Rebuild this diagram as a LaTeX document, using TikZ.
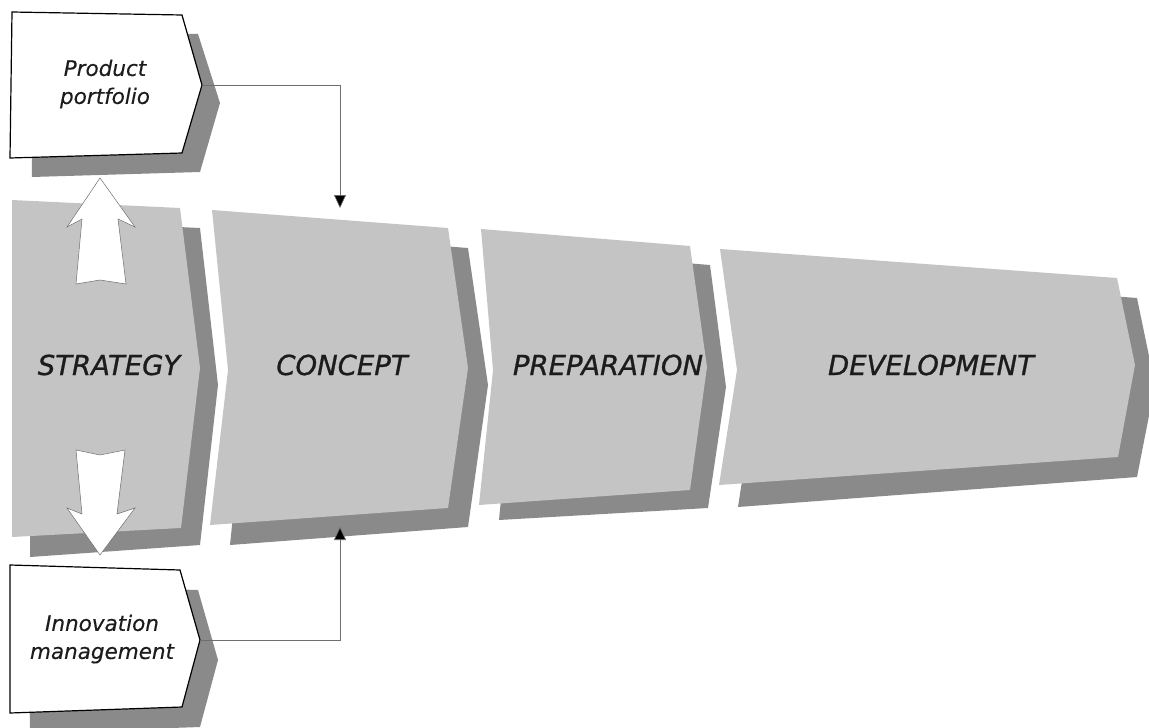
\documentclass[tikz,border=0pt]{standalone}
\usepackage{fontspec}
\setmainfont{DejaVu Sans}
\newfontfamily\stagefont{DejaVu Sans}[ItalicFeatures={FakeBold=0.9}]
\newfontfamily\boxfont{DejaVu Sans}[ItalicFeatures={FakeBold=0.3}]
\usetikzlibrary{arrows.meta}
\definecolor{frontgray}{RGB}{196,196,196}
\definecolor{shadowgray}{RGB}{138,138,138}
\definecolor{txt}{RGB}{28,28,28}
\definecolor{linegray}{RGB}{110,110,110}
\tikzset{
  front/.style={fill=frontgray},
  shade/.style={fill=shadowgray},
  boxfront/.style={fill=white, draw=black, line width=1.2pt, line join=miter},
  blockarrow/.style={fill=white, draw=linegray, line width=0.5pt},
  stagelabel/.style={anchor=base, text=txt, font=\stagefont\fontsize{27.5}{30}\selectfont\itshape, inner sep=0pt},
  boxlabel/.style={align=center, text=txt, font=\boxfont\fontsize{21.5}{28}\selectfont\itshape, inner sep=0pt},
  conn/.style={draw=linegray, line width=0.6pt, -{Triangle[length=13pt,width=12pt,fill=black]}},
}
\begin{document}
\begin{tikzpicture}[x=1pt,y=-1pt]
\useasboundingbox (0,0) rectangle (1149,728);
% STRATEGY
\fill[shade] (30,220) -- (200,228) -- (218,385) -- (200,545) -- (30,557) -- cycle;
\fill[front] (12,200) -- (180,208) -- (200,368) -- (181,528) -- (12,537) -- cycle;
% CONCEPT
\fill[shade] (232,230) -- (468,248) -- (488,385) -- (468,527) -- (230,545) -- (246,388) -- cycle;
\fill[front] (212,210) -- (448,228) -- (468,368) -- (448,508) -- (210,525) -- (228,370) -- cycle;
% PREPARATION
\fill[shade] (500,248) -- (710,265) -- (726,387) -- (708,508) -- (499,520) -- (512,388) -- cycle;
\fill[front] (481,229) -- (690,246) -- (707,367) -- (690,490) -- (479,505) -- (493,370) -- cycle;
% DEVELOPMENT
\fill[shade] (740,268) -- (1137,298) -- (1155,385) -- (1137,477) -- (738,507) -- (756,390) -- cycle;
\fill[front] (720,249) -- (1117,278) -- (1135,365) -- (1118,457) -- (719,485) -- (737,370) -- cycle;
% Product portfolio box
\fill[shade] (30,30) -- (198,34) -- (220,103) -- (200,172) -- (32,177) -- cycle;
\draw[boxfront] (12,12) -- (182,15) -- (202,85) -- (182,153) -- (10,158) -- cycle;
\coordinate (pptip) at (202,85);
% Innovation management box
\fill[shade] (28,585) -- (198,590) -- (218,660) -- (200,727) -- (30,733) -- cycle;
\draw[boxfront] (10,565) -- (180,570) -- (200,640) -- (182,707) -- (10,713) -- cycle;
\coordinate (imtip) at (200,640);
% block arrows
\draw[blockarrow] (100,178) -- (135,227) -- (118,219) -- (126,284) -- (100,280) -- (76,284) -- (82,219) -- (67,227) -- cycle;
\draw[blockarrow] (76,450) -- (100,455) -- (125,450) -- (117,514) -- (135,508) -- (100,555) -- (67,508) -- (82,514) -- cycle;
% labels
\node[stagelabel] (strategy) at (109,375) {STRATEGY};
\node[stagelabel] (concept) at (342,375) {CONCEPT};
\node[stagelabel] (preparation) at (608,375) {PREPARATION};
\node[stagelabel] (development) at (931,375) {DEVELOPMENT};
\node[boxlabel] (pp) at (105,84) {Product\\portfolio};
\node[boxlabel] (im) at (102,639) {Innovation\\management};
% connector targets
\coordinate (cTop) at (340,208);
\coordinate (cBot) at (340,527);
\draw[conn] (pptip) -| (cTop);
\draw[conn] (imtip) -| (cBot);
\end{tikzpicture}
\end{document}
